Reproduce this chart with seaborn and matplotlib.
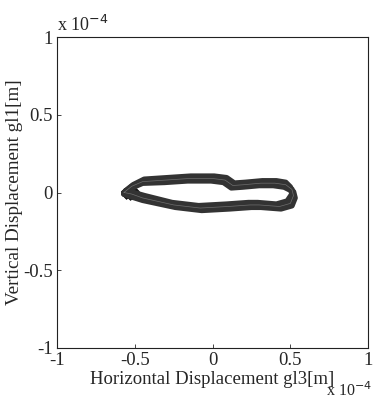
import numpy as np
import pandas as pd
import matplotlib
matplotlib.use('Agg')
import matplotlib.pyplot as plt
import seaborn as sns

# Loop traces (units of 1e-4 m)
x_cycle1 = [-0.57, -0.52, -0.45, -0.30, -0.15, 0.00, 0.08, 0.13, 0.20, 0.31, 0.40, 0.47, 0.51, 0.52, 0.50, 0.43, 0.30, 0.24, 0.10, -0.08, -0.25, -0.45, -0.52, -0.57]
y_cycle1 = [0.00, 0.04, 0.07, 0.08, 0.09, 0.09, 0.08, 0.045, 0.05, 0.06, 0.06, 0.05, 0.02, -0.02, -0.07, -0.09, -0.08, -0.08, -0.09, -0.10, -0.08, -0.035, -0.01, 0.00]

x_cycle2 = [-0.56, -0.51, -0.44, -0.29, -0.14, 0.01, 0.09, 0.14, 0.21, 0.32, 0.41, 0.47, 0.50, 0.51, 0.48, 0.41, 0.29, 0.23, 0.09, -0.09, -0.26, -0.44, -0.51, -0.56]
y_cycle2 = [0.01, 0.05, 0.085, 0.095, 0.105, 0.105, 0.095, 0.06, 0.065, 0.075, 0.075, 0.065, 0.035, -0.01, -0.055, -0.075, -0.065, -0.065, -0.075, -0.085, -0.065, -0.02, 0.00, 0.01]

x_cycle3 = [-0.57, -0.52, -0.45, -0.31, -0.16, -0.01, 0.07, 0.12, 0.19, 0.30, 0.39, 0.46, 0.52, 0.53, 0.51, 0.44, 0.31, 0.25, 0.11, -0.07, -0.24, -0.45, -0.53, -0.57]
y_cycle3 = [-0.01, 0.03, 0.06, 0.065, 0.075, 0.075, 0.065, 0.03, 0.035, 0.045, 0.045, 0.035, 0.005, -0.035, -0.085, -0.105, -0.095, -0.095, -0.105, -0.115, -0.095, -0.05, -0.025, -0.01]

# dark knot at the left turning point
knot_x = [-0.54, -0.51]
knot_y = [0.00, -0.01]

xticks = [-1, -0.5, 0, 0.5, 1]
yticks = [-1, -0.5, 0, 0.5, 1]
xtick_labels = ["-1", "-0.5", "0", "0.5", "1"]
ytick_labels = ["-1", "-0.5", "0", "0.5", "1"]

df = pd.concat([
    pd.DataFrame({"x": x_cycle1, "y": y_cycle1, "cycle": 1}),
    pd.DataFrame({"x": x_cycle2, "y": y_cycle2, "cycle": 2}),
    pd.DataFrame({"x": x_cycle3, "y": y_cycle3, "cycle": 3}),
])

sns.set_style("white")
plt.rcParams['font.family'] = ['Liberation Serif', 'DejaVu Serif']

fig = plt.figure(figsize=(3.73, 4.0), dpi=100)
ax = fig.add_axes([0.153, 0.13, 0.834, 0.7775])

# thick dark band from the overlapping cycles
sns.lineplot(data=df, x="x", y="y", units="cycle", estimator=None, sort=False,
             color="#333333", lw=4.0, ax=ax, legend=False)
# faint streaks between the strands
sns.lineplot(data=df[df["cycle"] == 1], x="x", y="y", estimator=None, sort=False,
             color="#6e6e6e", lw=0.5, ax=ax, legend=False)
sns.scatterplot(x=knot_x, y=knot_y, marker="X", s=70, color="#111111",
                edgecolor="#111111", ax=ax, legend=False)

ax.set_xlim(-1, 1)
ax.set_ylim(-1, 1)
ax.set_xticks(xticks)
ax.set_yticks(yticks)
ax.set_xticklabels(xtick_labels, fontsize=13.5)
ax.set_yticklabels(ytick_labels, fontsize=13.5)
ax.tick_params(direction="in", length=3, width=0.6, top=False, right=False,
               bottom=True, left=True)
ax.tick_params(axis="x", pad=3)
ax.tick_params(axis="y", pad=3)
for s in ax.spines.values():
    s.set_linewidth(0.8)
    s.set_color("#222222")

ax.set_xlabel("Horizontal Displacement gl3[m]", fontsize=13.5, labelpad=1)
ax.set_ylabel("Vertical Displacement gl1[m]", fontsize=13.8, labelpad=0)

ax.text(0.0, 1.005, r"x 10$^{-4}$", transform=ax.transAxes, fontsize=13,
        ha="left", va="bottom")
fig.text(0.998, 0.0, r"x 10$^{-4}$", fontsize=11.5,
         ha="right", va="bottom")

fig.savefig("out.png", dpi=100)
